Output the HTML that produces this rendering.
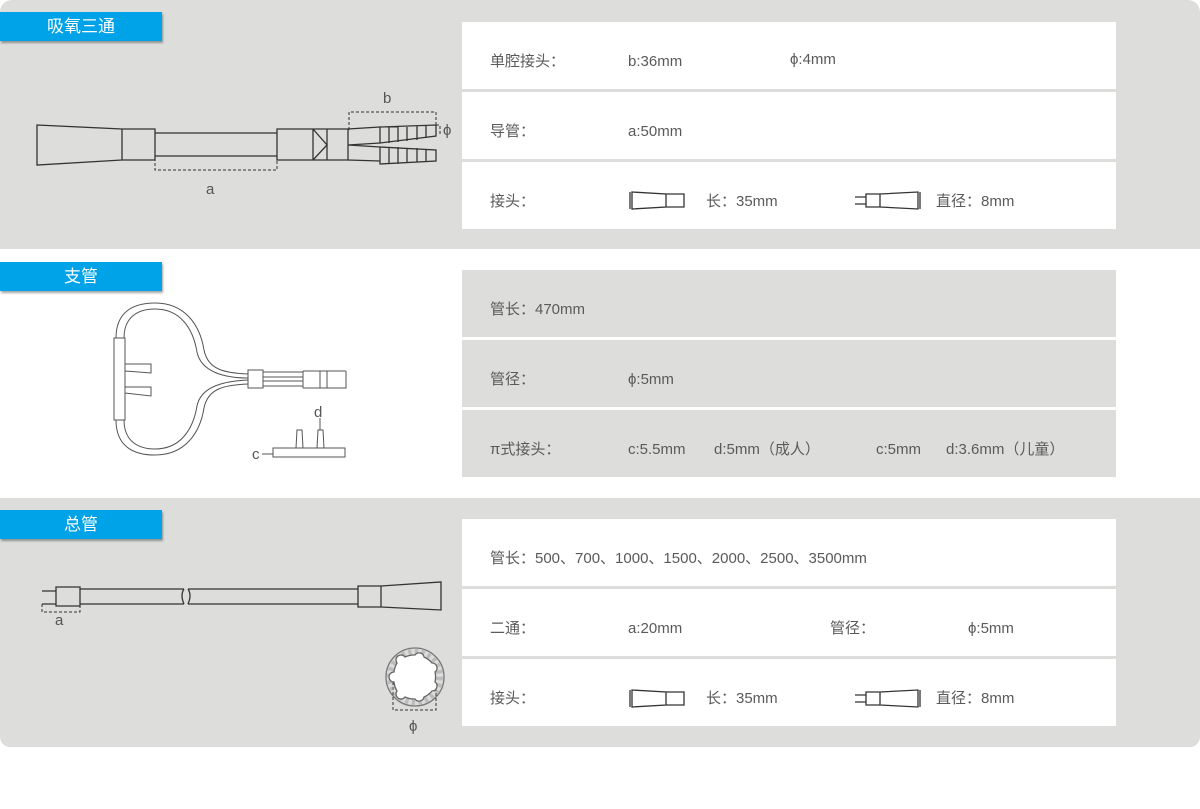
<!DOCTYPE html>
<html><head><meta charset="utf-8"><style>
body{margin:0;width:1200px;height:809px;background:#fff;position:relative;overflow:hidden;font-family:"Liberation Sans","Noto Sans CJK SC",sans-serif;color:#5a5a5a}
.sec{position:absolute;left:0;width:1200px;background:#dddedc}
.tab{position:absolute;left:0;width:162px;height:29px;background:#00a2e8;color:#fff;font-size:17px;line-height:29px;text-align:center;box-shadow:1px 2px 2px rgba(0,0,0,.35)}
.row{position:absolute;left:462px;width:654px;height:67px;background:#fff;font-size:15px}
.g .row{background:#dddedc}
.row span{position:absolute;top:0;line-height:80px}
svg{position:absolute;left:0;top:0}
</style></head><body>
<div class="sec" style="top:0;height:249px;border-radius:12px 12px 0 0"></div>
<div class="sec" style="top:498px;height:249px;border-radius:0 0 10px 10px"></div>

<div class="tab" style="top:12px">吸氧三通</div>
<div class="tab" style="top:262px">支管</div>
<div class="tab" style="top:510px">总管</div>

<div class="row" style="top:22px"><span style="left:28px">单腔接头：</span><span style="left:166px">b:36mm</span><span style="left:328px;top:-2px">ϕ:4mm</span></div>
<div class="row" style="top:92px"><span style="left:28px">导管：</span><span style="left:166px">a:50mm</span></div>
<div class="row" style="top:162px"><span style="left:28px">接头：</span><span style="left:244px">长：35mm</span><span style="left:474px">直径：8mm</span></div>

<div class="g">
<div class="row" style="top:270px"><span style="left:28px">管长：470mm</span></div>
<div class="row" style="top:340px"><span style="left:28px">管径：</span><span style="left:166px">ϕ:5mm</span></div>
<div class="row" style="top:410px"><span style="left:28px">π式接头：</span><span style="left:166px">c:5.5mm</span><span style="left:252px">d:5mm（成人）</span><span style="left:414px">c:5mm</span><span style="left:484px">d:3.6mm（儿童）</span></div>
</div>

<div class="row" style="top:519px"><span style="left:28px">管长：500、700、1000、1500、2000、2500、3500mm</span></div>
<div class="row" style="top:589px"><span style="left:28px">二通：</span><span style="left:166px">a:20mm</span><span style="left:368px">管径：</span><span style="left:506px">ϕ:5mm</span></div>
<div class="row" style="top:659px"><span style="left:28px">接头：</span><span style="left:244px">长：35mm</span><span style="left:474px">直径：8mm</span></div>

<svg width="1200" height="809" fill="none" stroke="#333" stroke-width="1.3">
<path d="M630 192 L630 209 M632 192 L666 194 L666 207 L632 209 Z M666 194 H684 V207 H666"/>
<path d="M855 197 H866 M855 204 H866 M866 194 H880 V207 H866 Z M880 194 L918 192 V209 L880 207 M920 192 V209"/>
<path d="M630 690 L630 707 M632 690 L666 692 L666 705 L632 707 Z M666 692 H684 V705 H666"/>
<path d="M855 695 H866 M855 702 H866 M866 692 H880 V705 H866 Z M880 692 L918 690 V707 L880 705 M920 690 V707"/>

<path d="M37 125 L122 129 H155 V160 H122 L37 165 Z M122 129 V160"/>
<path d="M155 133 H277 M155 156 H277"/>
<path d="M277 129 H348 V160 H277 Z M313 129 V160 M313 129 L327 145 L313 160 M327 129 V160"/>
<path d="M348 129 L380 127 M348 145 L380 143 M348 160 L380 161 M348 145 L380 147"/>
<path d="M380 127 L436 125 V136 L380 143 Z M380 147 L436 150 V161 L380 164 Z M389 127 V143 M398 126 V142 M407 126 V141 M417 126 V140 M426 125 V138 M389 147 V164 M398 147 V164 M407 148 V163 M417 148 V162 M426 149 V162"/>
<g stroke-dasharray="3 2" stroke-width="1"><path d="M155 148 V170 H277 V148 M349 130 V112 H436 V125 M436 125 H440 V136"/></g>

<g stroke="#555" stroke-width="1">
<path d="M116 338 C116 312 133 303 155 303 C185 303 200 325 204 350 C208 370 225 373 248 374 M124 338 C124 317 138 309 155 309 C180 309 193 328 197 352 C201 372 225 378 248 378"/>
<path d="M116 420 C116 446 133 455 155 455 C185 455 200 433 204 408 C208 388 225 385 248 384 M124 420 C124 441 138 449 155 449 C180 449 193 430 197 406 C201 386 225 381 248 380"/>
<rect x="114" y="338" width="11" height="82" fill="#fff"/>
<path d="M125 364 H151 V373 L125 371 M125 387 H151 V396 L125 393"/>
<rect x="248" y="370" width="15" height="18"/>
<path d="M263 372 H303 M263 377 H303 M263 381 H303 M263 386 H303 M303 371 H346 M303 388 H346 V371 M303 371 V388 M320 371 V388 M327 371 V388"/>
<rect x="273" y="448" width="72" height="9"/>
<path d="M296 448 L297 430 H302 L303 448 M317 448 L318 430 H323 L324 448 M320 430 V418 M262 454 H273"/>
</g>

<path d="M42 591 H56 V604 H42 M56 587 H80 V606 H56 Z M80 589 H184 M80 604 H184 M188 589 H358 M188 604 H358 M184 589 Q180 595 184 604 M188 589 Q192 595 188 604 M358 586 H381 V607 H358 Z M381 586 L441 582 V610 L381 607"/>
<g stroke-dasharray="3 2" stroke-width="1"><path d="M42 604 V612 H80 V604 M393 682 V710 H436 V682"/></g>
<circle cx="415" cy="677" r="29" stroke="#777"/>
<circle cx="415" cy="677" r="23" stroke="#999" stroke-width="10" stroke-dasharray="3 3" opacity=".5"/>
<path d="M415 655 a5 5 0 0 1 9 2 a22 22 0 0 1 8 6 a5 5 0 0 1 3 9 a22 22 0 0 1 0 10 a5 5 0 0 1 -3 9 a22 22 0 0 1 -8 6 a5 5 0 0 1 -9 2 a22 22 0 0 1 -10 -2 a5 5 0 0 1 -8 -6 a22 22 0 0 1 -3 -9 a5 5 0 0 1 0 -10 a22 22 0 0 1 3 -9 a5 5 0 0 1 8 -6 a22 22 0 0 1 10 -2z" stroke="#666" fill="#fff"/>
<g fill="#555" stroke="none" font-size="15" font-family="Liberation Sans, sans-serif">
<text x="206" y="194">a</text><text x="383" y="103">b</text><text x="443" y="135">ϕ</text>
<text x="314" y="417">d</text><text x="252" y="459">c</text>
<text x="55" y="625">a</text><text x="409" y="731">ϕ</text>
</g>
</svg>
</body></html>
